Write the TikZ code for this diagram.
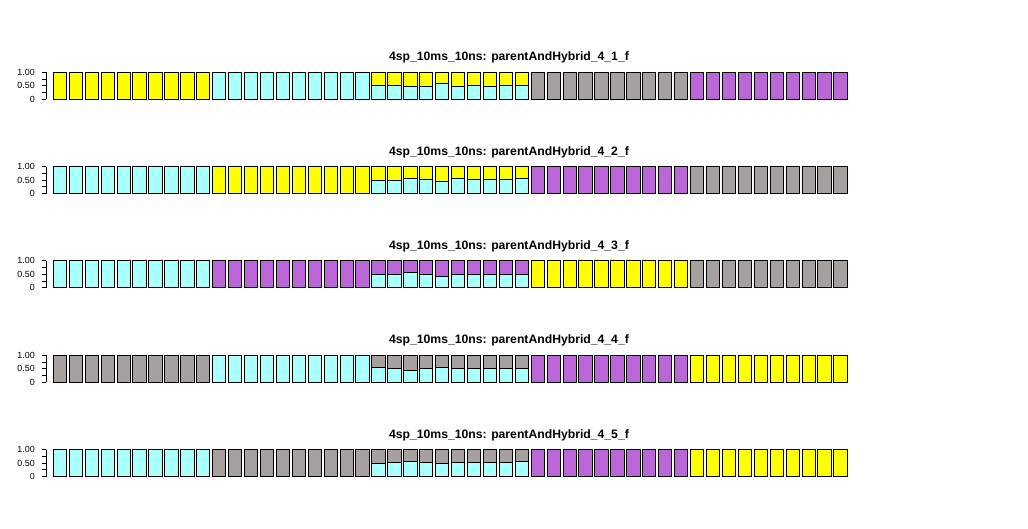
\documentclass[tikz,border=0pt]{standalone}
\usepackage{fontspec}
\setmainfont{Liberation Sans}
\definecolor{cy}{HTML}{AAFFFF}
\definecolor{ye}{HTML}{FFFF00}
\definecolor{gr}{HTML}{A6A09F}
\definecolor{pu}{HTML}{BA66D6}
\begin{document}
\begin{tikzpicture}[x=1pt,y=-1pt,
  bar/.style={draw=black,line width=1pt},
  axisline/.style={draw=black,line width=0.9pt},
  ttl/.style={anchor=base,inner sep=0pt,font=\bfseries\fontsize{12.2}{14}\selectfont},
  lab/.style={anchor=east,inner sep=0pt,font=\fontsize{8.9}{10}\selectfont}]
\useasboundingbox (0,0) rectangle (1028,529);
\foreach \rowi/\colA/\colB/\colH/\colD/\colE/\fracs/\rnum in {
  0/ye/cy/ye/gr/pu/{0.52,0.52,0.49,0.49,0.57,0.49,0.51,0.49,0.50,0.50}/1,
  1/cy/ye/ye/pu/gr/{0.50,0.50,0.55,0.525,0.46,0.55,0.525,0.525,0.525,0.55}/2,
  2/cy/pu/pu/ye/gr/{0.49,0.49,0.56,0.51,0.44,0.51,0.49,0.51,0.51,0.51}/3,
  3/gr/cy/gr/pu/ye/{0.54,0.49,0.44,0.49,0.56,0.49,0.49,0.49,0.49,0.49}/4,
  4/cy/gr/gr/pu/ye/{0.49,0.51,0.56,0.51,0.49,0.51,0.51,0.51,0.51,0.56}/5}{
  \pgfmathsetmacro\Tx{72.3+94.3*\rowi}
  \pgfmathsetmacro\Bx{\Tx+27}
  \node[ttl] (title\rnum) at (509,\Tx-11.5) {4sp\_10ms\_10ns: parentAndHybrid\_4\_\rnum\_f};
  % pure groups
  \foreach \grp/\gcol in {0/\colA,1/\colB,3/\colD,4/\colE}{
    \foreach \jj in {0,...,9}{
      \pgfmathsetmacro\Lx{53.3+15.93*(10*\grp+\jj)}
      \draw[bar,fill=\gcol] (\Lx,\Tx) rectangle ++(13.28,27);
    }
  }
  % hybrid group
  \foreach \ff [count=\kk from 0] in \fracs {
    \pgfmathsetmacro\Lx{53.3+15.93*(20+\kk)}
    \pgfmathsetmacro\Mx{\Bx-27*\ff}
    \draw[bar,fill=cy] (\Lx,\Mx) rectangle (\Lx+13.28,\Bx);
    \draw[bar,fill=\colH] (\Lx,\Tx) rectangle (\Lx+13.28,\Mx);
  }
  % axis
  \draw[axisline] (46,\Tx) -- (46,\Bx);
  \foreach \vv in {0,0.25,0.5,0.75,1}{
    \draw[axisline] (41.5,\Bx-27*\vv) -- (46,\Bx-27*\vv);
  }
  \node[lab] (ya\rnum) at (35,\Bx) {0};
  \node[lab] (yb\rnum) at (35,\Bx-13.5) {0.50};
  \node[lab] (yc\rnum) at (35,\Tx) {1.00};
}
\end{tikzpicture}
\end{document}
